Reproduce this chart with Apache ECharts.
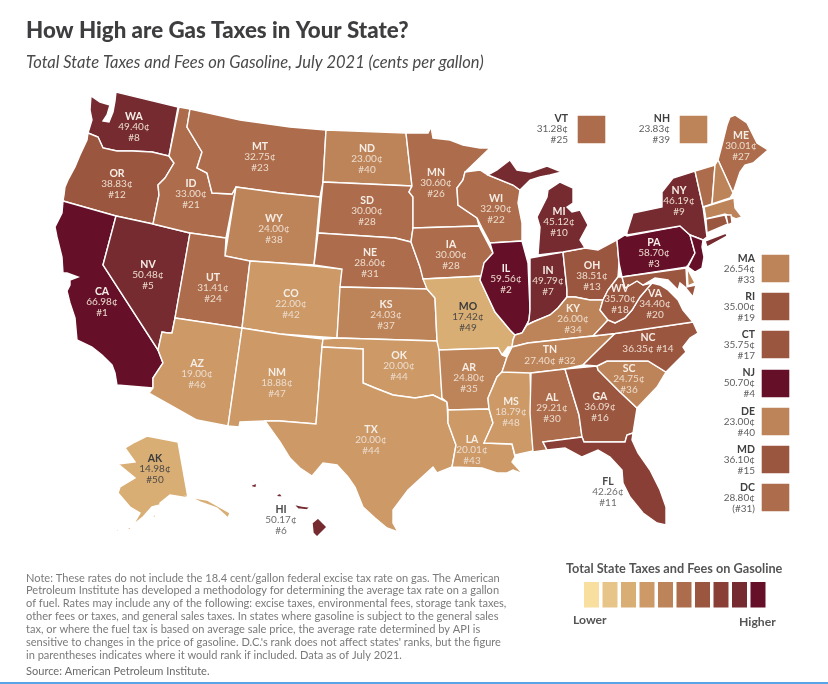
<!DOCTYPE html>
<html><head><meta charset="utf-8">
<style>html,body{margin:0;padding:0;background:#fff}#c{width:828px;height:684px}</style>
<script src="https://cdn.jsdelivr.net/npm/echarts@6/dist/echarts.min.js"></script>
</head><body><div id="c"></div>
<script>
const stateCodes=["AL","AK","AZ","AR","CA","CO","CT","DE","FL","GA","HI","ID","IL","IN","IA","KS","KY","LA","ME","MD","MA","MI","MN","MS","MO","MT","NE","NV","NH","NJ","NM","NY","NC","ND","OH","OK","OR","PA","RI","SC","SD","TN","TX","UT","VT","VA","WA","WV","WI","WY","DC"];
const taxCents=[29.21,14.98,19.00,24.80,66.98,22.00,35.75,23.00,42.26,36.09,50.17,33.00,59.56,49.79,30.00,24.03,26.00,20.01,30.01,36.10,26.54,45.12,30.60,18.79,17.42,32.75,28.60,50.48,23.83,50.70,18.88,46.19,36.35,23.00,38.51,20.00,38.83,58.70,35.00,24.75,30.00,27.40,20.00,31.41,31.28,34.40,49.40,35.70,32.90,24.00,28.80];
const rankLabels=["#30","#50","#46","#35","#1","#42","#17","#40","#11","#16","#6","#21","#2","#7","#28","#37","#34","#43","#27","#15","#33","#10","#26","#48","#49","#23","#31","#5","#39","#4","#47","#9","#14","#40","#13","#44","#12","#3","#19","#36","#28","#32","#44","#24","#25","#20","#8","#18","#22","#38","(#31)"];
const binColors=["#F8DE9F","#E7C488","#D9AE75","#CC9967","#BE8459","#AD6C4B","#9B5640","#8A3F36","#752B30","#650F28"];
const binEdges=[0,10,14,18,23,28,34,40,45,50.6,100];
const noteLines=["Note: These rates do not include the 18.4 cent/gallon federal excise tax rate on gas. The American","Petroleum Institute has developed a methodology for determining the average tax rate on a gallon","of fuel. Rates may include any of the following: excise taxes, environmental fees, storage tank taxes,","other fees or taxes, and general sales taxes. In states where gasoline is subject to the general sales","tax, or where the fuel tax is based on average sale price, the average rate determined by API is","sensitive to changes in the price of gasoline. D.C.'s rank does not affect states' ranks, but the figure","in parentheses indicates where it would rank if included. Data as of July 2021."];
const sourceLine="Source: American Petroleum Institute.";
const titleText="How High are Gas Taxes in Your State?";
const subtitleText="Total State Taxes and Fees on Gasoline, July 2021 (cents per gallon)";
const legendTitle="Total State Taxes and Fees on Gasoline";

/* Region outlines: the base map's geometry, traced in page units */
const outlines={
WA:["91,96 100,102 110,105 107,115 103,121 109,122 113,112 115,101 116,92 178,107 169,156 152,152 133,151 117,151 103,148 98,137 88,133 92,120 90,110"],
OR:["88,133 98,137 103,148 117,151 133,151 152,152 169,156 174,163 165,178 158,185 159,195 153,224 116,216 63,201 64,195 65,187 68,180 75,167 80,155 87,140"],
CA:["63,201 116,216 103,265 158,350 163,363 153,378 153,388 117,385 115,373 112,365 102,355 92,347 77,340 75,318 70,303 67,291 70,285 70,280 78,277 67,273 63,273 62,257 57,237 55,227 62,213"],
NV:["116,216 153,224 190,233 175,318 172,333 168,333 162,332 158,350 103,265"],
ID:["179,107 190,109 187,127 202,152 197,168 207,173 212,193 232,194 236,187 226,238 190,233 153,224 159,195 158,185 165,178 174,163 169,156"],
MT:["190,109 240,120 290,127 326,130 323,182 320,197 280,193 236,187 232,194 212,193 207,173 197,168 202,152 187,127"],
WY:["236,187 280,193 320,197 314,265 280,263 250,261 225,256"],
UT:["190,233 226,238 225,256 250,261 242,328 175,318"],
CO:["250,261 280,263 314,266 342,269 337,338 280,334 242,328"],
AZ:["175,318 242,328 228,426 197,420 149,393 153,388 153,378 163,363 158,350 162,332 168,333 172,333"],
NM:["242,328 280,334 323,339 322,347 316,424 280,421 265,421 240,422 239,427 228,426"],
ND:["326,130 406,133 409,160 412,186 323,182"],
SD:["323,182 412,186 409,192 413,197 413,228 411,242 403,240 395,238 318,233"],
NE:["318,233 395,238 403,240 411,242 420,267 427,289 340,287 342,269 314,265"],
KS:["340,287 427,289 435,298 437,341 337,338"],
OK:["323,339 337,338 437,341 440,350 442,398 447,402 433,395 415,398 393,395 375,388 363,383 363,349 322,347"],
TX:["322,347 363,349 363,383 375,388 393,395 415,398 433,395 447,402 448,423 456,445 452,467 437,473 433,467 408,490 393,510 393,523 398,532 387,528 375,518 363,507 355,487 348,477 337,465 323,463 312,476 300,468 290,458 280,442 265,421 280,421 316,424"],
MN:["406,133 428,133 431,127 433,138 450,140 463,145 480,148 490,148 465,172 463,180 457,188 458,205 477,218 479,226 413,228 413,197 409,192 412,186 409,160"],
IA:["413,228 479,226 482,232 493,253 484,263 482,276 423,279 420,267 411,242"],
MO:["423,279 482,276 480,280 495,312 510,330 515,335 513,340 512,347 508,347 502,355 498,348 439,350 437,341 435,298 427,289"],
AR:["439,350 498,348 502,355 507,357 502,372 497,377 488,398 489,409 448,410 447,402 442,398"],
LA:["448,410 489,409 493,423 484,443 512,444 515,457 512,462 523,474 513,470 507,473 497,473 482,468 452,467 456,445 448,423"],
MS:["502,372 530,372 532,433 533,451 515,455 512,444 484,443 493,423 489,409 488,398 497,377"],
WI:["465,172 480,170 488,175 513,185 520,190 518,203 522,223 522,241 490,243 482,228 477,218 458,205 457,188 463,180"],
IL:["490,243 522,241 528,263 530,310 529,320 522,333 515,335 510,330 495,312 480,280 484,263 493,253"],
IN:["530,258 563,252 567,290 567,297 558,308 550,315 533,322 527,325 529,320 530,310"],
OH:["563,252 585,248 598,250 617,240 619,263 618,277 608,290 603,300 590,300 575,297 567,297 567,290"],
KY:["515,335 522,333 527,325 533,322 550,315 558,308 567,297 575,297 590,300 603,300 600,310 608,320 593,336 528,343 512,347 513,340"],
TN:["512,347 528,343 593,336 615,333.5 593,355 583,365 565,369 531,373 502,372 507,357"],
MI:["538,255 540,227 537,217 547,197 548,190 560,182 573,188 573,203 567,207 572,212 580,210 588,225 580,240 585,248 563,252","488,175 497,170 510,160 517,170 530,172 547,166 562,172 550,175 540,177 530,180 520,190 513,185"],
AL:["531,373 565,369 579,415 582,437 543,442 547,450 533,452 530,413"],
GA:["565,369 597,366 598,370 620,392 637,408 633,433 627,435 625,442 584,442 582,437 579,415"],
FL:["543,442 582,437 584,442 625,442 627,435 633,433 632,440 638,453 650,470 660,490 666,507 666,525 657,523 643,513 630,497 623,483 622,470 610,457 598,450 582,457 565,448 547,450"],
SC:["597,366 607,361 623,361 648,361 666,372 657,387 637,408 620,392 598,370"],
NC:["583,365 593,355 615,333.5 693,322 698,333 690,338 683,347 686,352 683,355 666,372 648,361 623,361 607,361 597,366"],
VA:["608,320 615,323 625,318 632,310 640,297 652,283 660,285 668,290 678,300 683,310 693,322 615,333.5 593,336"],
WV:["618,277 622,277 625,288 637,281 643,285 652,283 640,297 632,310 625,318 615,323 608,320 600,310 603,300 608,290"],
PA:["617,240 625,235 627,236 680,226 690,235 695,253 687,267 622,277 619,263"],
NY:["627,235 627,232 633,213 662,207 662,192 673,178 695,171 703,207 707,237 703,240 690,235 680,226","705,241 726,233 727,236 707,247"],
ME:["718,160 722,145 727,125 730,117 735,115 747,123 757,143 768,150 753,163 745,165 740,172 733,193"],
VT:["695,171 715,165 712,204 703,207","577,115 606,115 606,144 577,144"],
NH:["715,165 718,160 733,193 730,198 712,204","679,115 708,115 708,144 679,144"],
MA:["704,207 730,199 734,198 735,208 742,217 736,219 725,214 706,219","761,254 790,254 790,283 761,283"],
CT:["706,219 725,215 728,224 707,233","761,330 790,330 790,359 761,359"],
RI:["726,215 731,215 732,223 728,225","761,292 790,292 790,321 761,321"],
NJ:["690,235 703,240 702,247 704,257 702,268 695,272 688,267 695,253","761,369 790,369 790,398 761,398"],
DE:["687,268 695,283 688,286","761,407 790,407 790,436 761,436"],
MD:["622,277 686,268 687,287 696,285 693,297 685,287 680,283 678,290 668,280 655,278 643,285 637,281 625,288","761,445 790,445 790,474 761,474"],
DC:["761,483 790,483 790,512 761,512"],
HI:["312,523 318,518 327,527 317,537 313,533","293,504 302,506 310,507 307,510 298,509","276,495 280,493 283,497 278,497","251,485 257,483 256,488 252,487","291,501 296,502 293,503"],
AK:["125,448 135,442 147,436 178,442 188,498 170,495 160,503 160,505 152,507 143,517 133,525 140,513 130,507 118,493 120,487 135,478 118,464 135,462 130,455","189,497 207,500 230,513 228,518 217,508 200,502","127,528 134,526 129,530","114,531 120,529 118,532","152,516 156,514 155,518"]
};
/* Label anchor for each region, page units */
const anchors={WA:[134,127],OR:[117,184],CA:[102,302],NV:[148,275],ID:[191,194],MT:[260,157],WY:[274,229],UT:[213,288],CO:[291,304],AZ:[197,374],NM:[277,383],ND:[367,159],SD:[367,211],NE:[370,263],KS:[386,315],OK:[399,366],TX:[371,440],MN:[436,183],IA:[451,255],WI:[496,209],IL:[506,279],MO:[468,317],AR:[469,378],LA:[472,450],MS:[511,412],AL:[552,408],GA:[600,407],FL:[608,492],SC:[629,379],TN:[550,355],NC:[648,343],KY:[573,319],VA:[655,304],WV:[620,299],OH:[592,276],IN:[548,281],MI:[559,222],PA:[654,253],NY:[679,201],ME:[741,146],AK:[155,469],HI:[281,520],VT:[543,129],NH:[645,129],MA:[730,269],RI:[730,307],CT:[730,345],NJ:[730,383],DE:[730,422],MD:[730,460],DC:[730,498]};
const sideLabels=["VT","NH","MA","RI","CT","NJ","DE","MD","DC"];
const outsideLabels=["FL","HI"];
const darkLabels=["MO","AK"];
const oneRowLabels=["TN","NC"];

const toRing=s=>s.split(" ").map(p=>{const [x,y]=p.split(",").map(Number);return [x,-y];});
const geoJson={type:"FeatureCollection",features:Object.keys(outlines).map(k=>({type:"Feature",properties:{name:k,cp:[anchors[k][0],-anchors[k][1]]},geometry:{type:"MultiPolygon",coordinates:outlines[k].map(s=>[toRing(s)])}}))};
echarts.registerMap("usa",geoJson);

const pieces=binColors.map((c,i)=>({gte:binEdges[i],lt:binEdges[i+1],color:c}));
const line=(o)=>Object.assign({fontFamily:"Lato",lineHeight:10.8},o);
const rich={
 nl:line({fontWeight:700,fontSize:10.5,color:"#f6eee6"}),vl:line({fontSize:10,color:"#ecdccd"}),
 nd:line({fontWeight:700,fontSize:10.5,color:"#3b3b3b"}),vd:line({fontSize:10,color:"#4d4a45"}),
 no:line({fontWeight:700,fontSize:10.5,color:"#4a4a4a"}),vo:line({fontSize:10,color:"#6e6e6e"}),
 ns:line({fontWeight:700,fontSize:10.5,color:"#3f3f3f",width:50,align:"right"}),vs:line({fontSize:10,color:"#5f5f5f",width:50,align:"right"})
};
const data=stateCodes.map((c,i)=>({name:c,value:taxCents[i]}));
const labelFor=p=>{
 const i=stateCodes.indexOf(p.name);const v=taxCents[i].toFixed(2)+"¢",r=rankLabels[i];
 const [a,b]=sideLabels.includes(p.name)?["ns","vs"]:outsideLabels.includes(p.name)?["no","vo"]:darkLabels.includes(p.name)?["nd","vd"]:["nl","vl"];
 if(oneRowLabels.includes(p.name))return `{${a}|${p.name}}\n{${b}|${v} ${r}}`;
 return `{${a}|${p.name}}\n{${b}|${v}}\n{${b}|${r}}`;
};
const txt=(x,y,text,font,fill,extra)=>({type:"text",silent:true,x,y,style:Object.assign({text,font,fill,textVerticalAlign:"middle"},extra||{})});
const graphics=[
 txt(26,31,titleText,"900 22.3px Lato","#3e3e41"),
 txt(26,63,subtitleText,"italic 400 16.5px Lato","#4a4a4a"),
 ...noteLines.map((t,i)=>txt(26,578+i*12.85,t,"400 11.05px Lato","#7a7a7a")),
 txt(26,671,sourceLine,"400 11.05px Lato","#6a6a6a"),
 txt(566,569,legendTitle,"700 12.7px Lato","#555"),
 txt(573,620,"Lower","700 12.2px Lato","#555"),
 txt(739,622,"Higher","700 12.2px Lato","#555"),
 {type:"rect",silent:true,shape:{x:0,y:682,width:828,height:2},style:{fill:"#5BA3E8"}}
];
const chart=echarts.init(document.getElementById("c"),null,{renderer:"canvas"});
chart.setOption({
 animation:false,backgroundColor:"#fff",
 tooltip:{show:false},
 visualMap:{type:"piecewise",pieces,orient:"horizontal",left:584,top:582,padding:0,itemWidth:15,itemHeight:25.5,itemGap:3.5,itemSymbol:"rect",showLabel:false,selectedMode:false,hoverLink:false,seriesIndex:0,textStyle:{fontSize:0}},
 series:[{type:"map",map:"usa",silent:true,roam:false,aspectScale:1,boundingCoords:[[0,0],[828,-684]],left:0,top:0,width:828,height:684,data,
  selectedMode:false,
  itemStyle:{borderColor:"#fff",borderWidth:1.4},
  label:{show:true,formatter:labelFor,rich},
  emphasis:{disabled:true}}],
 graphic:graphics
});
</script></body></html>
